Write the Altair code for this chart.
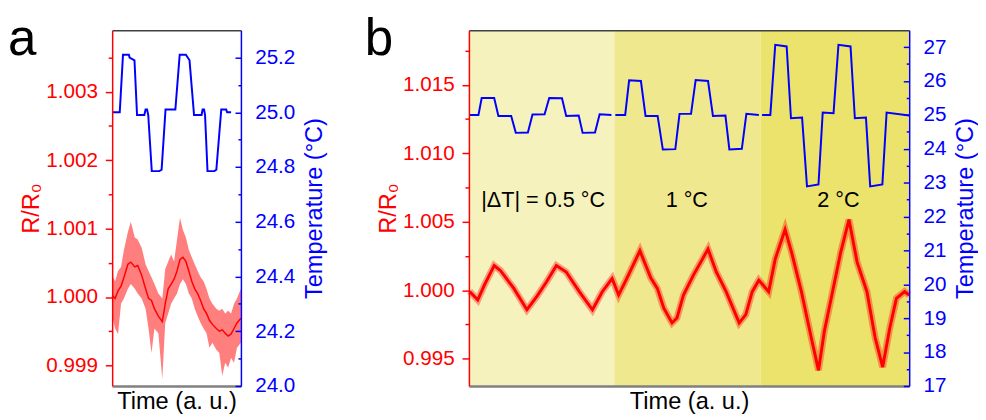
import altair as alt
import pandas as pd

FONT = "Liberation Sans"
RED = "#ff0000"
BLUE = "#0000ff"

# ---------------- panel a ----------------
a_r_t = [0, 3, 6, 9, 12, 16, 19, 23, 26, 30, 34, 37, 40, 43, 47, 51, 54, 57, 60, 63, 66,
         69, 72, 75, 78, 81, 84, 87, 90, 93, 96, 99, 102, 106, 109, 112, 115, 118, 121, 124, 127, 131]
a_r = [1.00002, 0.99998, 1.00009, 1.00016, 1.00029, 1.00048, 1.00051, 1.00044, 1.00046, 1.00032,
       1.00012, 0.99998, 0.99995, 0.99983, 0.99972, 0.99964, 0.99990, 1.00012, 1.00019, 1.00026,
       1.00038, 1.00055, 1.00058, 1.00052, 1.00038, 1.00023, 1.00012, 1.00005, 0.99995, 0.99983,
       0.99976, 0.99966, 0.99960, 0.99954, 0.99950, 0.99952, 0.99947, 0.99943, 0.99946, 0.99954,
       0.99962, 0.99969]
a_r_hi = [1.00032, 1.00023, 1.00038, 1.00044, 1.00069, 1.00095, 1.00110, 1.00087, 1.00084, 1.00072,
          1.00048, 1.00038, 1.00029, 1.00019, 1.00005, 0.99998, 1.00041, 1.00052, 1.00062, 1.00052,
          1.00084, 1.00116, 1.00098, 1.00087, 1.00069, 1.00058, 1.00048, 1.00038, 1.00029, 1.00023,
          1.00012, 0.99998, 0.99990, 0.99983, 0.99980, 0.99983, 0.99976, 0.99980, 0.99976, 0.99990,
          0.99998, 1.00012]
a_r_lo = [0.99972, 0.99954, 0.99946, 0.99990, 0.99998, 1.00012, 1.00019, 1.00012, 1.00005, 0.99998,
          0.99983, 0.99954, 0.99918, 0.99954, 0.99947, 0.99880, 0.99962, 0.99976, 0.99990, 0.99998,
          1.00005, 1.00019, 1.00026, 1.00019, 1.00005, 0.99998, 0.99983, 0.99972, 0.99962, 0.99954,
          0.99947, 0.99926, 0.99933, 0.99923, 0.99918, 0.99885, 0.99904, 0.99897, 0.99911, 0.99904,
          0.99926, 0.99933]
a_T_t = [0, 7.7, 11, 17, 17.7, 22.7, 25.3, 32.7, 34, 35.5, 36.7, 40.3, 48, 50.3, 54.3, 64.3,
         68.7, 75, 78.7, 83.3, 91, 92, 93.5, 94.5, 97, 104, 106, 111, 116, 117, 121]
a_T = [25.00, 25.00, 25.21, 25.21, 25.20, 25.19, 24.99, 24.99, 25.01, 25.01, 24.99, 24.785,
       24.785, 24.79, 25.01, 25.01, 25.21, 25.21, 25.19, 24.99, 24.99, 25.01, 25.01, 24.99,
       24.785, 24.785, 24.79, 25.01, 25.01, 25.00, 25.00]

a_left_ticks = [0.999, 0.9995, 1.0, 1.0005, 1.001, 1.0015, 1.002, 1.0025, 1.003, 1.0035]
a_right_ticks = [24.0, 24.1, 24.2, 24.3, 24.4, 24.5, 24.6, 24.7, 24.8, 24.9, 25.0, 25.1, 25.2]

# ---------------- panel b ----------------
b_r_t = [0.7, 9, 15.7, 25.7, 32, 45.7, 59, 69, 79, 89, 99, 112.3, 125.7, 135.7, 145.7, 152.3,
         159, 174, 185, 191.7, 198.3, 206.7, 211.7, 218.3, 228.3, 243.3, 251.7, 261.7, 275,
         281.7, 288.3, 295, 305, 311.7, 321.7, 328.3, 338.3, 348.3, 355.7, 361.7, 370, 378.3,
         386.7, 395, 405, 413.3, 421, 428.3, 435, 443.3, 448]
b_r = [0.99991, 0.99929, 1.00037, 1.00180, 1.00144, 1.00013, 0.99857, 0.99953, 1.00061, 1.00180,
       1.00133, 0.99989, 0.99857, 0.99989, 1.00085, 0.99965, 1.00061, 1.00288, 1.00090, 1.00013,
       0.99869, 0.99761, 0.99797, 0.99965, 1.00108, 1.00300, 1.00133, 0.99989, 0.99761, 0.99821,
       0.99989, 1.00073, 0.99989, 1.00228, 1.00444, 1.00277, 0.99989, 0.99654, 0.99414, 0.99702,
       0.99989, 1.00277, 1.00516, 1.00205, 0.99989, 0.99654, 0.99438, 0.99726, 0.99941, 0.99989,
       0.99965]
b_T_seg1_t = [0.7, 9.7, 13, 25.7, 30, 43, 47.7, 60, 64.7, 77, 81.7, 94.7, 99, 111.7, 115.7, 128.3, 133, 145]
b_T_seg1 = [25.0, 25.0, 25.5, 25.5, 24.97, 24.97, 24.47, 24.48, 25.01, 25.02, 25.5, 25.49,
            24.97, 24.98, 24.47, 24.48, 25.02, 25.0]
b_T_seg2_t = [149, 159, 163, 175, 179.7, 192, 197.3, 210, 214.3, 226, 230.7, 243.3, 248.3, 261, 265, 277.7, 282.3, 295]
b_T_seg2 = [25.0, 25.0, 26.02, 26.0, 24.97, 24.97, 23.98, 23.99, 25.03, 25.03, 26.03, 26.0,
            24.97, 24.98, 23.98, 24.0, 25.03, 25.0]
b_T_seg3_t = [298.3, 306.7, 311.7, 323.3, 327.7, 339, 344, 355.7, 360, 371, 376, 388.3, 392.7, 404, 408.3, 420.7, 425, 448]
b_T_seg3 = [25.0, 25.0, 27.07, 27.02, 24.9, 24.92, 22.89, 22.95, 25.07, 25.05, 27.07, 27.02,
            24.9, 24.92, 22.89, 22.95, 25.07, 24.98]

band_start = [0, 148, 297]
band_end = [148, 297, 448]
band_colors = ["#f6f2bd", "#f0e88f", "#ebe36c"]

ann_text = ["|ΔT| = 0.5 °C", "1 °C", "2 °C"]
ann_t = [75.5, 221.7, 376]
ann_r = [1.0066, 1.0066, 1.0066]

b_left_ticks = [0.995, 0.9975, 1.0, 1.0025, 1.005, 1.0075, 1.01, 1.0125, 1.015, 1.0175]
b_right_ticks = [17, 17.5, 18, 18.5, 19, 19.5, 20, 20.5, 21, 21.5, 22, 22.5, 23, 23.5, 24,
                 24.5, 25, 25.5, 26, 26.5, 27]

panel_letters = ["a", "b"]

# ---------------- helpers ----------------
W_A, W_B, H = 131, 448, 362


def yaxis(orient, color, title, values, k, fmt, major, minor, pad, tpad, tbase):
    test = f"abs(datum.value*{k} - round(datum.value*{k})) < 0.01"
    return alt.Axis(
        orient=orient, title=title, values=values,
        labelExpr=f"({test}) ? format(datum.value, '{fmt}') : ''",
        tickSize={"condition": {"test": test, "value": major}, "value": minor},
        tickColor=color, tickWidth=1.5, domainColor=color, domainWidth=1.5,
        labelColor=color, labelFont=FONT, labelFontSize=21, labelPadding=pad,
        labelOverlap=False, labelFlush=False,
        titleColor=color, titleFont=FONT, titleFontSize=24, titleFontWeight="normal",
        titleAngle=270, titleBaseline=tbase, titlePadding=tpad, grid=False, zindex=1,
    )


x_bottom = alt.Axis(orient="bottom", title="Time (a. u.)", labels=False, ticks=False,
                    domainColor="#808080", domainWidth=2.5, titleFont=FONT, titleFontSize=24,
                    titleFontWeight="normal", titleColor="black", titlePadding=4, grid=False,
                    zindex=1)
x_top = alt.Axis(orient="top", title="", labels=False, ticks=False,
                 domainColor="#404040", domainWidth=1.5, grid=False, zindex=1)


def xs(domain):
    return alt.Scale(domain=domain, nice=False, zero=False)


def letter(ch):
    return alt.Chart(pd.DataFrame({"s": [ch]})).mark_text(
        font=FONT, fontSize=52, align="left", baseline="alphabetic", color="black"
    ).encode(x=alt.value(-106), y=alt.value(25), text="s:N")


# ---------------- panel a chart ----------------
dfa_r = pd.DataFrame({"t": a_r_t, "r": a_r, "lo": a_r_lo, "hi": a_r_hi})
dfa_T = pd.DataFrame({"t": a_T_t, "T": a_T})
sa_x = xs([0, 131])
sa_yl = alt.Scale(domain=[0.9987, 1.0039], nice=False, zero=False)
sa_yr = alt.Scale(domain=[24.0, 25.3], nice=False, zero=False)
ax_al = yaxis("left", RED, "R/R₀", a_left_ticks, 1000, ".3f", 7, 4, 8, 2, "bottom")
ax_ar = yaxis("right", BLUE, "Temperature (°C)", a_right_ticks, 5, ".1f", -6, -3, 20, 8, "top")

a_area = alt.Chart(dfa_r).mark_area(color=RED, opacity=0.5).encode(
    x=alt.X("t:Q", scale=sa_x, axis=x_bottom),
    y=alt.Y("lo:Q", scale=sa_yl, axis=ax_al), y2="hi:Q")
a_line = alt.Chart(dfa_r).mark_line(color=RED, strokeWidth=1.5).encode(
    x=alt.X("t:Q", scale=sa_x, axis=x_bottom),
    y=alt.Y("r:Q", scale=sa_yl, axis=ax_al))
a_blue = alt.Chart(dfa_T).mark_line(color=BLUE, strokeWidth=2).encode(
    x=alt.X("t:Q", scale=sa_x, axis=x_top),
    y=alt.Y("T:Q", scale=sa_yr, axis=ax_ar))

panel_a = alt.layer(alt.layer(a_area, a_line), a_blue, letter(panel_letters[0])).resolve_scale(
    y="independent").resolve_axis(x="independent").properties(width=W_A, height=H)

# ---------------- panel b chart ----------------
dfb_r = pd.DataFrame({"t": b_r_t, "r": b_r})
dfb_T = pd.DataFrame({
    "t": b_T_seg1_t + b_T_seg2_t + b_T_seg3_t,
    "T": b_T_seg1 + b_T_seg2 + b_T_seg3,
    "seg": [1] * len(b_T_seg1_t) + [2] * len(b_T_seg2_t) + [3] * len(b_T_seg3_t),
})
dfb_band = pd.DataFrame({"x0": band_start, "x1": band_end, "c": band_colors})
dfb_ann = pd.DataFrame({"t": ann_t, "r": ann_r, "label": ann_text})
sb_x = xs([0, 448])
sb_yl = alt.Scale(domain=[0.993, 1.019], nice=False, zero=False)
sb_yr = alt.Scale(domain=[17, 27.5], nice=False, zero=False)
ax_bl = yaxis("left", RED, "R/R₀", b_left_ticks, 200, ".3f", 7, 4, 8, 2, "bottom")
ax_br = yaxis("right", BLUE, "Temperature (°C)", b_right_ticks, 1, "d", -6, -3, 20, 8, "top")

b_band = alt.Chart(dfb_band).mark_rect().encode(
    x=alt.X("x0:Q", scale=sb_x, axis=None), x2="x1:Q",
    color=alt.Color("c:N", scale=None))
b_halo = alt.Chart(dfb_r).mark_line(color=RED, strokeWidth=7, opacity=0.35).encode(
    x=alt.X("t:Q", scale=sb_x, axis=x_bottom),
    y=alt.Y("r:Q", scale=sb_yl, axis=ax_bl))
b_line = alt.Chart(dfb_r).mark_line(color=RED, strokeWidth=3).encode(
    x=alt.X("t:Q", scale=sb_x, axis=x_bottom),
    y=alt.Y("r:Q", scale=sb_yl, axis=ax_bl))
b_ann = alt.Chart(dfb_ann).mark_text(font=FONT, fontSize=22, color="black", baseline="middle").encode(
    x=alt.X("t:Q", scale=sb_x, axis=x_bottom),
    y=alt.Y("r:Q", scale=sb_yl, axis=ax_bl), text="label:N")
b_blue = alt.Chart(dfb_T).mark_line(color=BLUE, strokeWidth=2).encode(
    x=alt.X("t:Q", scale=sb_x, axis=x_top),
    y=alt.Y("T:Q", scale=sb_yr, axis=ax_br), detail="seg:N")

panel_b = alt.layer(b_band, alt.layer(b_halo, b_line, b_ann), b_blue, letter(panel_letters[1])).resolve_scale(
    y="independent").resolve_axis(x="independent").properties(width=W_B, height=H)

chart = alt.hconcat(panel_a, panel_b, spacing=39).properties(
    padding={"left": 0, "top": 2, "right": 0, "bottom": 0}
).configure_view(stroke=None)

chart.save("out.html", embed_options={"renderer": "svg", "actions": False})
